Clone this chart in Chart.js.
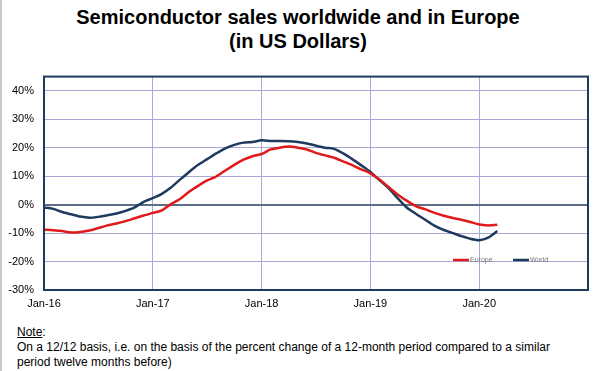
<!DOCTYPE html>
<html>
<head>
<meta charset="utf-8">
<script src="https://cdn.jsdelivr.net/npm/chart.js@4.4.1/dist/chart.umd.min.js"></script>
<style>
  html, body { margin: 0; padding: 0; background: #fff; }
  body { width: 596px; height: 371px; position: relative; overflow: hidden; font-family: "Liberation Sans", Arial, sans-serif; }
  #edge { position: absolute; left: 0; top: 0; width: 2px; height: 371px; background: #c8c8c8; }
  #title { position: absolute; left: 0; top: 5px; width: 596px; text-align: center; font-weight: bold; font-size: 20px; line-height: 24px; color: #000; }
  #wrap { position: absolute; left: 0; top: 60px; width: 596px; height: 256px; }
  #note { position: absolute; left: 17px; top: 325px; font-size: 12px; line-height: 15px; color: #000; }
  #note u { text-decoration: underline; }
</style>
</head>
<body>
<div id="edge"></div>
<div id="title">Semiconductor sales worldwide and in Europe<br>(in US Dollars)</div>
<div id="wrap"><canvas id="chart"></canvas></div>
<div id="note"><u>Note</u>:<br>On a 12/12 basis, i.e. on the basis of the percent change of a 12-month period compared to a similar<br>period twelve months before)</div>
<script>
// =========================
// Data (monthly, % change 12/12)
// =========================
const years = ["16", "17", "18", "19", "20", "21"];
const monthNames = ["Jan", "Feb", "Mar", "Apr", "May", "Jun", "Jul", "Aug", "Sep", "Oct", "Nov", "Dec"];

// Jan-16 ... Jan-21
const months = [];
years.forEach((y) => {
  monthNames.forEach((m) => {
    if (y === "21" && m !== "Jan") return;
    months.push(m + "-" + y);
  });
});

const europe = [
  -8.8, -9.0, -9.3, -9.8, -9.6, -9.1, -8.2, -7.3, -6.6, -5.8, -4.8, -3.8,
  -2.9, -2.0, 0.2, 2.0, 4.5, 6.6, 8.5, 9.9, 12.0, 14.0, 15.8, 17.0,
  17.8, 19.4, 20.0, 20.4, 20.0, 19.4, 18.2, 17.3, 16.5, 15.2, 13.9, 12.4,
  11.0, 8.8, 6.2, 3.6, 1.4, -0.5, -1.6, -2.8, -3.8, -4.6, -5.3, -6.1,
  -7.0, -7.3, -7.1,
];

const world = [
  -1.0, -1.5, -2.6, -3.4, -4.2, -4.6, -4.3, -3.7, -3.1, -2.2, -1.0, 1.0,
  2.3, 3.8, 6.0, 8.8, 11.5, 14.0, 16.0, 18.0, 19.8, 21.0, 21.8, 22.0,
  22.6, 22.4, 22.4, 22.3, 22.0, 21.5, 20.7, 20.0, 19.6, 18.0, 16.0, 13.8,
  11.5, 8.6, 5.8, 2.3, -1.0, -3.2, -5.2, -7.3, -8.8, -9.9, -11.0, -12.0,
  -12.5, -11.6, -9.3,
];

const yTicks = [-30, -20, -10, 0, 10, 20, 30, 40];
const yMax = 45;

// =========================
// Plugins
// =========================
const frame = {
  id: "frame",
  afterDatasetsDraw(chart) {
    const { ctx, chartArea: a } = chart;
    ctx.save();
    ctx.strokeStyle = "#1f3a5f";
    ctx.lineWidth = 2;
    ctx.strokeRect(a.left, a.top, a.right - a.left, a.bottom - a.top);
    ctx.restore();
  },
};

const legendBox = {
  id: "legendBox",
  afterDraw(chart) {
    const { ctx, chartArea: a } = chart;
    const y = a.bottom - 30;
    const items = [
      { ds: chart.data.datasets[0], x: a.right - 135 },
      { ds: chart.data.datasets[1], x: a.right - 75 },
    ];
    ctx.save();
    ctx.font = "7px 'Liberation Sans', Arial, sans-serif";
    ctx.textBaseline = "middle";
    items.forEach((it) => {
      ctx.strokeStyle = it.ds.borderColor;
      ctx.lineWidth = 2.5;
      ctx.beginPath();
      ctx.moveTo(it.x, y);
      ctx.lineTo(it.x + 16, y);
      ctx.stroke();
      ctx.fillStyle = "#777";
      ctx.fillText(it.ds.label, it.x + 17, y);
    });
    ctx.restore();
  },
};

// =========================
// Chart
// =========================
new Chart(document.getElementById("chart"), {
  type: "line",
  data: {
    labels: months,
    datasets: [
      {
        label: "Europe",
        data: europe,
        borderColor: "#e01a1a",
        borderWidth: 2.5,
        pointRadius: 0,
        tension: 0.25,
      },
      {
        label: "World",
        data: world,
        borderColor: "#1f3a5f",
        borderWidth: 2.5,
        pointRadius: 0,
        tension: 0.25,
      },
    ],
  },
  options: {
    responsive: true,
    maintainAspectRatio: false,
    animation: false,
    layout: { padding: { top: 11, right: 8, left: 0, bottom: 0 } },
    plugins: {
      legend: { display: false },
      tooltip: { enabled: false },
    },
    scales: {
      x: {
        type: "category",
        offset: false,
        afterFit(s) { s.height = 26; },
        border: { display: false },
        grid: {
          drawTicks: false,
          color: (c) => (c.tick && c.tick.label && String(months[c.index]).startsWith("Jan") ? "#a9a9d6" : "rgba(0,0,0,0)"),
          lineWidth: 1,
        },
        ticks: {
          autoSkip: false,
          maxRotation: 0,
          padding: 7,
          color: "#000",
          font: { family: "'Liberation Sans', Arial, sans-serif", size: 11 },
          callback: function (v, i) {
            const lab = months[i];
            return lab.startsWith("Jan") && i < months.length - 1 ? lab : "";
          },
        },
      },
      y: {
        min: yTicks[0],
        max: yMax,
        afterFit(s) { s.width = 44; },
        afterBuildTicks(s) { s.ticks = yTicks.map((v) => ({ value: v })); },
        border: { display: false },
        grid: {
          drawTicks: false,
          color: (c) => (c.tick && c.tick.value === 0 ? "#5d6d86" : "#a9a9d6"),
          lineWidth: (c) => (c.tick && c.tick.value === 0 ? 2 : 1),
        },
        ticks: {
          padding: 10,
          color: "#000",
          font: { family: "'Liberation Sans', Arial, sans-serif", size: 11 },
          callback: (v) => v + "%",
        },
      },
    },
  },
  plugins: [frame, legendBox],
});
</script>
</body>
</html>
